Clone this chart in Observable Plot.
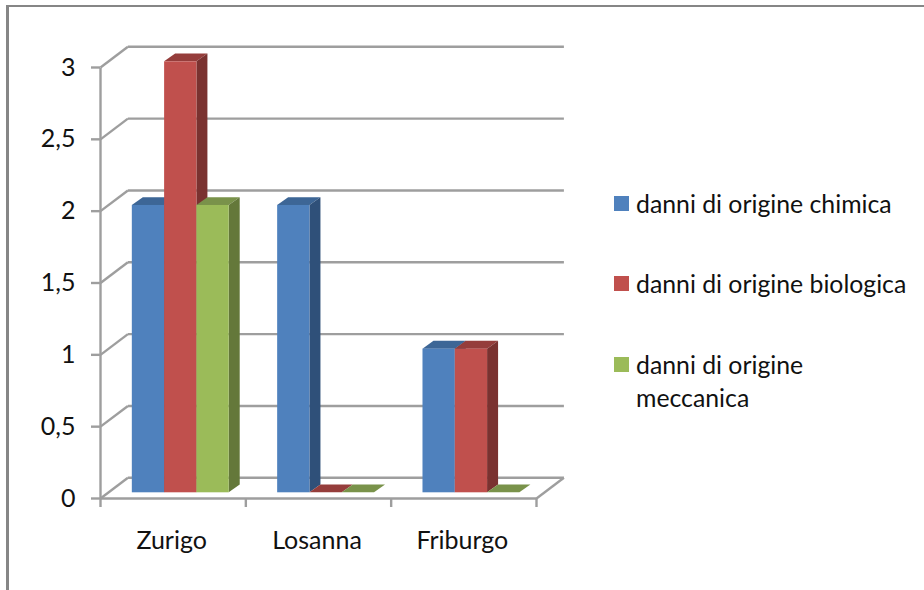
<!DOCTYPE html>
<html><head><meta charset="utf-8">
<script src="https://cdn.jsdelivr.net/npm/d3@7"></script>
<script src="https://cdn.jsdelivr.net/npm/@observablehq/plot@0.6"></script>
<style>
html,body{margin:0;padding:0;background:#fff;overflow:hidden}
#page{position:relative;width:924px;height:590px;font-family:Lato,sans-serif;color:#000}
#border{position:absolute;left:6px;top:5px;right:-10px;bottom:-10px;border-top:2px solid #868686;border-left:3px solid #868686}
#chart{position:absolute;left:0;top:0}
#chart svg{display:block;background:transparent}
.lg{position:absolute;left:614px;width:300px}
.sw{position:absolute;left:0;top:0;width:15px;height:15px}
.tx{position:absolute;left:22px;font-size:24.8px;line-height:33px;white-space:nowrap;color:#111}
</style></head><body>
<div id="page"><div id="border"></div><div id="chart"></div><div id="legend"></div></div>
<script>
const categories = ["Zurigo", "Losanna", "Friburgo"];
const seriesNames = ["danni di origine chimica", "danni di origine biologica", "danni di origine meccanica"];
const chimica = [2, 2, 1];
const biologica = [3, 0, 1];
const meccanica = [2, 0, 0];
const yTicks = [0, 0.5, 1, 1.5, 2, 2.5, 3];
const yLabels = ["0", "0,5", "1", "1,5", "2", "2,5", "3"];
const frontColors = ["#4F81BD", "#C0504D", "#9BBB59"];
const sideColors = ["#2F5079", "#7A3230", "#64783A"];
const topColors = ["#3D6696", "#953D3B", "#79924A"];

const W = 924, H = 590, mL = 100, mR = 388, mT = 67, mB = 92;
const pxX = 3 / (W - mL - mR), pxY = 3 / (H - mT - mB);
// oblique projection of the chart's depth, expressed in data units
const wallX = 27.4 * pxX, wallY = 20.7 * pxY;
const nearX = 7.6 * pxX, nearY = 5.7 * pxY;
const depthX = 11 * pxX, depthY = 7.8 * pxY;
const barW = 1 / 4.5, gap = barW * 0.75;
const gridColor = "#9E9E9E";
const grid = {stroke: gridColor, strokeWidth: 2.4};

const bars = (vals, s) => vals.map((v, i) => {
  const x1 = i + gap + s * barW + nearX;
  return {id: `${i}-${s}`, x1, x2: x1 + barW, y1: nearY, y2: v + nearY};
});
const face = (b) => [0, 1].map(t => ({
  id: b.id,
  sx: b.x2 + t * depthX, sy1: b.y1 + t * depthY, sy2: b.y2 + t * depthY,
  tx1: b.x1 + t * depthX, tx2: b.x2 + t * depthX, ty: b.y2 + t * depthY
}));

const barMarks = [chimica, biologica, meccanica].flatMap((vals, s) => {
  const bs = bars(vals, s);
  const fs = bs.flatMap(face);
  return [
    Plot.area(fs, {x1: "tx1", x2: "tx2", y1: "ty", z: "id", fill: topColors[s]}),
    Plot.area(fs, {x1: "sx", y1: "sy1", y2: "sy2", z: "id", fill: sideColors[s]}),
    Plot.rect(bs, {x1: "x1", x2: "x2", y1: "y1", y2: "y2", fill: frontColors[s]})
  ];
});

const plot = Plot.plot({
  width: W, height: H, marginLeft: mL, marginRight: mR, marginTop: mT, marginBottom: mB,
  style: {fontFamily: "Lato, sans-serif", fontSize: "25px", color: "#111", background: "transparent", overflow: "visible"},
  x: {domain: [0, 3]},
  y: {domain: [0, 3]},
  marks: [
    // back wall gridlines
    Plot.link(yTicks, {x1: wallX, x2: 3 + wallX, y1: d => d + wallY, y2: d => d + wallY, ...grid}),
    // side wall gridlines
    Plot.link(yTicks, {x1: 0, x2: wallX, y1: d => d, y2: d => d + wallY, ...grid}),
    // floor
    Plot.link([0], {x1: 0, x2: 3, y1: 0, y2: 0, ...grid}),
    Plot.link([0], {x1: 3, x2: 3 + wallX, y1: 0, y2: wallY, ...grid}),
    // y axis line
    Plot.link([0], {x1: 0, x2: 0, y1: 0, y2: 3, ...grid}),
    Plot.axisY({ticks: yTicks, tickFormat: d => yLabels[yTicks.indexOf(d)], tickSize: 9, tickPadding: 16, stroke: gridColor, strokeWidth: 2.4, label: null, fill: "#111"}),
    Plot.axisX({ticks: [0, 1, 2, 3], tickFormat: () => "", tickSize: 9, stroke: gridColor, strokeWidth: 2.4, label: null}),
    Plot.axisX({ticks: [0.5, 1.5, 2.5], tickFormat: d => categories[Math.floor(d)], tickSize: 0, tickPadding: 33, label: null, fill: "#111", dx: -1.5}),
    ...barMarks
  ]
});
document.getElementById("chart").append(plot);

const legendTops = [196, 276, 357];
const legendLines = [[seriesNames[0]], [seriesNames[1]], ["danni di origine", "meccanica"]];
const lg = document.getElementById("legend");
seriesNames.forEach((n, i) => {
  const d = document.createElement("div");
  d.className = "lg"; d.style.top = legendTops[i] + "px";
  const sw = document.createElement("div");
  sw.className = "sw"; sw.style.background = frontColors[i];
  const tx = document.createElement("div");
  tx.className = "tx"; tx.style.top = "-9px";
  tx.innerHTML = legendLines[i].join("<br>");
  d.append(sw, tx); lg.append(d);
});
</script>
</body></html>
